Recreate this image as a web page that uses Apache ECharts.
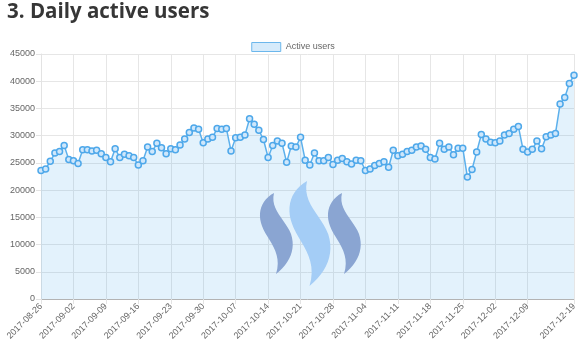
<!DOCTYPE html>
<html>
<head>
<meta charset="utf-8">
<script src="https://cdn.jsdelivr.net/npm/echarts@6/dist/echarts.min.js"></script>
<style>
  html, body { margin: 0; padding: 0; background: #fff; }
  #chart { width: 586px; height: 351px; }
</style>
</head>
<body>
<div id="chart"></div>
<script>
// daily values, 2017-08-26 .. 2017-12-19
const startDate = "2017-08-26";
const activeUsers = [
  23600, 23900, 25300, 26800, 27100, 28200, 25600, 25400, 24900, 27400,
  27400, 27200, 27300, 26700, 26000, 25200, 27600, 26000, 26600, 26300,
  26000, 24600, 25400, 27900, 27100, 28600, 27800, 26700, 27600, 27400,
  28300, 29400, 30600, 31400, 31200, 28700, 29400, 29700, 31300, 31200,
  31300, 27200, 29600, 29700, 30100, 33100, 32100, 31000, 29300, 26000,
  28200, 29000, 28600, 25100, 28100, 27900, 29700, 25500, 24600, 26800,
  25400, 25400, 26000, 24700, 25500, 25800, 25200, 24800, 25500, 25400,
  23600, 23900, 24500, 24900, 25200, 24200, 27300, 26300, 26600, 27100,
  27300, 27900, 28100, 27500, 26000, 25700, 28600, 27500, 27900, 26500,
  27700, 27700, 22400, 23800, 27000, 30200, 29400, 28800, 28700, 29000,
  30100, 30400, 31200, 31700, 27500, 27000, 27500, 29000, 27600, 29800,
  30100, 30400, 35800, 37000, 39600, 41100
];
const yTicks = [0, 5000, 10000, 15000, 20000, 25000, 30000, 35000, 40000, 45000];

// one category per day
const days = [];
const d0 = new Date(startDate + "T00:00:00Z");
for (let i = 0; i < activeUsers.length; i++) {
  const d = new Date(d0.getTime() + i * 86400000);
  days.push(d.toISOString().slice(0, 10));
}

const last = days.length - 1;
// weekly labels plus the last day (the one before it is skipped)
const showTick = (i) => i === last || (i % 7 === 0 && i < last - 5);

// sample a closed shape made of cubic segments into polygon points
function curveShape(start, segs) {
  const pts = [start];
  let p0 = start;
  segs.forEach(([c1, c2, p3]) => {
    for (let k = 1; k <= 12; k++) {
      const t = k / 12, u = 1 - t;
      pts.push([
        u * u * u * p0[0] + 3 * u * u * t * c1[0] + 3 * u * t * t * c2[0] + t * t * t * p3[0],
        u * u * u * p0[1] + 3 * u * u * t * c1[1] + 3 * u * t * t * c2[1] + t * t * t * p3[1],
      ]);
    }
    p0 = p3;
  });
  return pts;
}

// watermark logo: three wavy strokes
function stroke(dx, top, bottom, scale) {
  const s = scale;
  const P = (x, y) => [dx + x * s, top + y * (bottom - top) / 81];
  return curveShape(P(0, 0), [
    [P(-13, 7), P(-17, 20), P(-12, 33)],
    [P(-7, 47), P(9, 59), P(2, 81)],
    [P(16, 70), P(22, 56), P(17, 41)],
    [P(11, 26), P(-4, 17), P(0, 0)],
  ]);
}

const chart = echarts.init(document.getElementById("chart"));

const option = {
  animation: false,
  title: {
    text: "3. Daily active users",
    left: 2,
    top: -3,
    textStyle: {
      fontFamily: "Open Sans",
      fontWeight: "bold",
      fontSize: 20.5,
      color: "#363636",
    },
  },
  legend: {
    top: 37,
    left: "center",
    itemWidth: 29,
    itemHeight: 9,
    itemGap: 5,
    textStyle: { fontFamily: "Liberation Sans", fontSize: 9, color: "#666" },
    data: [
      {
        name: "Active users",
        icon: "rect",
        itemStyle: { color: "#d6ebfb", borderColor: "#6cb7ec", borderWidth: 1 },
      },
    ],
  },
  grid: { left: 41, right: 12, top: 54, bottom: 52, outerBoundsMode: "none" },
  xAxis: {
    type: "category",
    data: days,
    boundaryGap: false,
    axisLine: { lineStyle: { color: "#b3b3b3" } },
    axisTick: { show: true, interval: showTick, length: 5, lineStyle: { color: "#e3e3e3" } },
    splitLine: { show: true, interval: showTick, lineStyle: { color: "#e6e6e6" } },
    axisLabel: {
      interval: showTick,
      rotate: 45,
      margin: 6,
      fontFamily: "Liberation Sans",
      fontSize: 9,
      color: "#666",
    },
  },
  yAxis: {
    type: "value",
    min: yTicks[0],
    max: yTicks[yTicks.length - 1],
    interval: 5000,
    axisLine: { show: true, lineStyle: { color: "#e3e3e3" } },
    axisTick: { show: true, length: 5, lineStyle: { color: "#e3e3e3" } },
    splitLine: { lineStyle: { color: "#e6e6e6" } },
    axisLabel: {
      margin: 6,
      fontFamily: "Liberation Sans",
      fontSize: 9,
      color: "#666",
      formatter: (v) => String(v),
    },
  },
  graphic: [
    { type: "polygon", z: 10, shape: { points: stroke(274, 193, 274, 1) }, style: { fill: "#8aa5d2" } },
    { type: "polygon", z: 10, shape: { points: stroke(307, 181, 286, 1.25) }, style: { fill: "#a4cdf6" } },
    { type: "polygon", z: 10, shape: { points: stroke(342, 193, 274, 1) }, style: { fill: "#8aa5d2" } },
  ],
  series: [
    {
      name: "Active users",
      type: "line",
      data: activeUsers,
      symbol: "circle",
      symbolSize: 6,
      showAllSymbol: true,
      lineStyle: { color: "#5cb0ec", width: 1.5 },
      itemStyle: { color: "#cfe7fb", borderColor: "#4ea8ea", borderWidth: 1.5 },
      areaStyle: { color: "rgba(54,162,235,0.2)", origin: "start" },
    },
  ],
};

chart.setOption(option);
</script>
</body>
</html>
